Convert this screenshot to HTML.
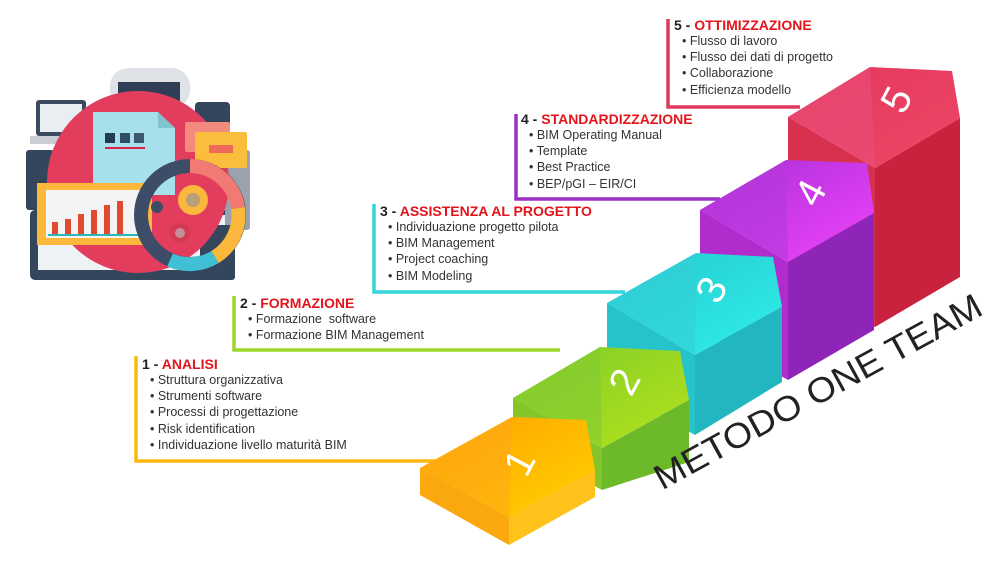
<!DOCTYPE html>
<html><head><meta charset="utf-8"><style>
html,body{margin:0;padding:0;background:#fff;}
body{width:1002px;height:566px;overflow:hidden;position:relative;font-family:"Liberation Sans",sans-serif;}
.box{position:absolute;font-size:12.5px;color:#333;line-height:16.2px;}
.box .t{font-weight:bold;font-size:14px;color:#222;line-height:16px;margin-left:-8px;}
.box .t span{color:#e3141b;}
</style></head><body>
<svg width="1002" height="566" style="position:absolute;left:0;top:0">
<defs>
<linearGradient id="gy" x1="0" y1="0" x2="1" y2="1"><stop offset="0" stop-color="#ffa000"/><stop offset="1" stop-color="#ffd200"/></linearGradient>
<linearGradient id="gg" x1="0" y1="0" x2="1" y2="1"><stop offset="0" stop-color="#7ccc2a"/><stop offset="1" stop-color="#b7e21c"/></linearGradient>
<linearGradient id="gc" x1="0" y1="0" x2="1" y2="1"><stop offset="0" stop-color="#25c8cf"/><stop offset="1" stop-color="#2ff0e8"/></linearGradient>
<linearGradient id="gp" x1="0" y1="0" x2="1" y2="1"><stop offset="0" stop-color="#a92dd6"/><stop offset="1" stop-color="#ef45fb"/></linearGradient>
<linearGradient id="gr" x1="0" y1="0" x2="1" y2="1"><stop offset="0" stop-color="#e2375e"/><stop offset="1" stop-color="#ee4766"/></linearGradient>
</defs>
<g fill="none" stroke-width="3.5">
<polyline points="136,356 136,461 445,461" stroke="#fbb80f"/>
<polyline points="234,296 234,350 560,350" stroke="#9ed52a"/>
<polyline points="374,204 374,292 625,292" stroke="#33d6da"/>
<polyline points="516,114 516,199 720,199" stroke="#9b30c8"/>
<polyline points="668,19 668,107 800,107" stroke="#e0385a"/>
</g>
<polygon points="788,117 875,168 875,327 788,280" fill="#d8314f"/>
<polygon points="875,168 960,118 960,277 875,327" fill="#c9223f"/>
<polygon points="788,117 870,67 952,71 960,118 875,168" fill="url(#gr)"/>
<polygon points="870,67 875,168 788,117" fill="#ea4e78" opacity="0.6"/>
<polygon points="700,210 788,262 788,380 700,330" fill="#b02ccc"/>
<polygon points="788,262 874,213 874,330 788,380" fill="#8f24b8"/>
<polygon points="700,210 786,160 867,163 874,213 788,262" fill="url(#gp)"/>
<polygon points="786,160 788,262 700,210" fill="#b23ad9" opacity="0.6"/>
<polygon points="607,303 695,355 695,435 607,385" fill="#27c3cb"/>
<polygon points="695,355 782,307 782,382 695,435" fill="#22b6c0"/>
<polygon points="607,303 696,253 773,257 782,307 695,355" fill="url(#gc)"/>
<polygon points="696,253 695,355 607,303" fill="#34cfd6" opacity="0.6"/>
<polygon points="513,398 602,448 602,490 513,440" fill="#84c52a"/>
<polygon points="602,448 689,400 689,462 602,490" fill="#6cb92a"/>
<polygon points="513,398 600,347 680,351 689,400 602,448" fill="url(#gg)"/>
<polygon points="600,347 602,448 513,398" fill="#82c932" opacity="0.6"/>
<polygon points="420,468 509,517 509,545 420,495" fill="#fba70e"/>
<polygon points="509,517 595,470 595,497 509,545" fill="#ffc21a"/>
<polygon points="420,468 512,417 586,420 595,470 509,517" fill="url(#gy)"/>
<polygon points="512,417 509,517 420,468" fill="#ffa51a" opacity="0.5"/>
<g fill="#fff" font-family="Liberation Sans,sans-serif" font-size="40" text-anchor="middle" dominant-baseline="central">
<text transform="translate(520,463) rotate(-62)">1</text>
<text transform="translate(625,382) rotate(-62)">2</text>
<text transform="translate(712,290) rotate(-62)">3</text>
<text transform="translate(811,193) rotate(-62)">4</text>
<text transform="translate(897,100) rotate(-62)">5</text>
</g>
<text transform="translate(818,392) rotate(-28.7)" font-family="Liberation Sans,sans-serif" font-size="35" fill="#222" text-anchor="middle" dominant-baseline="central" textLength="368" lengthAdjust="spacingAndGlyphs">METODO ONE TEAM</text>
<rect x="110" y="68" width="80" height="40" rx="18" fill="#dfe3e8"/>
<rect x="118" y="82" width="62" height="30" fill="#2f3d55"/>
<rect x="36" y="100" width="50" height="36" rx="3" fill="#3b4a5e"/><rect x="40" y="104" width="42" height="28" fill="#e8eef2"/>
<rect x="30" y="136" width="58" height="8" fill="#c9ced4"/>
<rect x="195" y="102" width="35" height="80" rx="4" fill="#34465c"/>
<rect x="26" y="150" width="28" height="60" rx="3" fill="#34465c"/>
<rect x="30" y="210" width="205" height="70" rx="5" fill="#34465c"/><rect x="38" y="215" width="190" height="55" fill="#eef2f4"/>
<rect x="225" y="150" width="25" height="80" rx="3" fill="#9aa3ad"/>
<rect x="200" y="225" width="35" height="55" rx="3" fill="#34465c"/>
<circle cx="138" cy="182" r="91" fill="#e33d5e"/>
<polygon points="93,112 158,112 175,128 175,195 93,195" fill="#a6e0ea"/>
<polygon points="158,112 175,128 158,128" fill="#7fc4d0"/>
<rect x="105" y="133" width="10" height="10" fill="#243b55"/><rect x="120" y="133" width="10" height="10" fill="#2f4b66"/><rect x="134" y="133" width="10" height="10" fill="#3b5970"/>
<rect x="105" y="147" width="40" height="2" fill="#d24"/>
<rect x="185" y="122" width="45" height="30" rx="2" fill="#f28a7d"/>
<rect x="195" y="132" width="52" height="36" rx="2" fill="#fbbd3c"/><rect x="209" y="145" width="24" height="8" fill="#ee6b5b"/>
<rect x="37" y="183" width="115" height="62" fill="#fbb83c"/><rect x="46" y="190" width="100" height="48" fill="#f4f4f4"/>
<g fill="#e34a34"><rect x="52" y="222" width="6" height="14"/><rect x="65" y="219" width="6" height="17"/><rect x="78" y="214" width="6" height="22"/><rect x="91" y="210" width="6" height="26"/><rect x="104" y="205" width="6" height="31"/><rect x="117" y="201" width="6" height="35"/></g>
<rect x="48" y="234" width="98" height="2" fill="#2bb8b0"/>
<circle cx="190" cy="215" r="49" fill="none" stroke="#3d4d68" stroke-width="14"/>
<path d="M190,166 A49,49 0 0 1 238,208" fill="none" stroke="#f27a74" stroke-width="14"/>
<path d="M238,208 A49,49 0 0 1 215,257" fill="none" stroke="#fbb83c" stroke-width="14"/>
<path d="M215,257 A49,49 0 0 1 170,260" fill="none" stroke="#3fc0d4" stroke-width="14"/>
<circle cx="193" cy="200" r="15" fill="#fbb83c"/><circle cx="193" cy="200" r="7" fill="#b99e7a"/>
<circle cx="180" cy="233" r="10" fill="#d33a52"/><circle cx="180" cy="233" r="5" fill="#c6909a"/>
<circle cx="157" cy="207" r="6" fill="#3d4d68"/>
</svg>
<div class="box" style="left:150px;top:356px;"><div class="t">1 - <span>ANALISI</span></div>• Struttura organizzativa<br>• Strumenti software<br>• Processi di progettazione<br>• Risk identification<br>• Individuazione livello maturità BIM</div>
<div class="box" style="left:248px;top:295px;"><div class="t">2 - <span>FORMAZIONE</span></div>• Formazione&nbsp; software<br>• Formazione BIM Management</div>
<div class="box" style="left:388px;top:203px;"><div class="t">3 - <span>ASSISTENZA AL PROGETTO</span></div>• Individuazione progetto pilota<br>• BIM Management<br>• Project coaching<br>• BIM Modeling</div>
<div class="box" style="left:529px;top:111px;"><div class="t">4 - <span>STANDARDIZZAZIONE</span></div>• BIM Operating Manual<br>• Template<br>• Best Practice<br>• BEP/pGI – EIR/CI</div>
<div class="box" style="left:682px;top:17px;"><div class="t">5 - <span>OTTIMIZZAZIONE</span></div>• Flusso di lavoro<br>• Flusso dei dati di progetto<br>• Collaborazione<br>• Efficienza modello</div>
</body></html>
